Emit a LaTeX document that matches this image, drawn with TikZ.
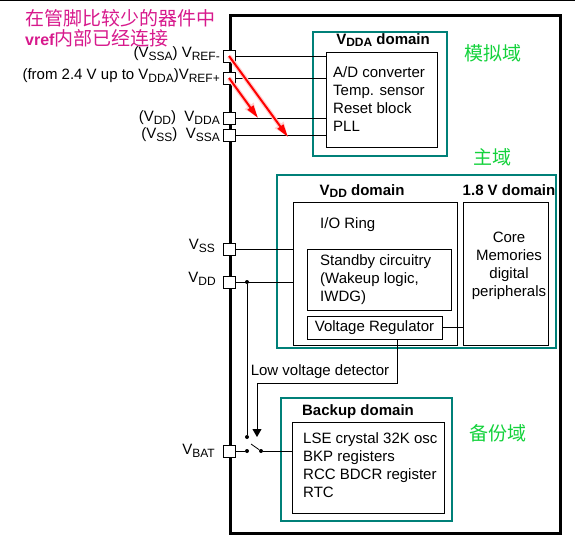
\documentclass[tikz,border=0pt]{standalone}
\usepackage{fontspec}
\setmainfont{Liberation Sans}
\newfontfamily\cjk{Noto Sans CJK SC}
\usetikzlibrary{arrows.meta}

\definecolor{domteal}{RGB}{0,128,120}
\definecolor{cngreen}{RGB}{20,210,60}
\definecolor{cnpink}{RGB}{215,25,140}

\newcommand{\lowsub}[1]{\raisebox{-0.3ex}{\fontsize{12}{12}\selectfont #1}}

\tikzset{
	pinbox/.style={draw, fill=white, line width=0.8pt, minimum size=12pt, inner sep=0pt, outer sep=0pt},
	dombox/.style={draw=domteal, line width=2pt, inner sep=0pt, outer sep=0pt, anchor=north west},
	blk/.style={draw, line width=0.8pt, inner sep=0pt, outer sep=0pt, anchor=north west},
	wire/.style={line width=0.8pt},
	jdot/.style={circle, fill, inner sep=0pt, minimum size=4pt},
	redarr/.style={draw=red, line width=2pt, -{Triangle[length=13pt,width=7pt]},
		preaction={draw=red!18, line width=4.5pt, -{Triangle[length=15pt,width=10pt]}}},
	domtitle/.style={font=\bfseries\fontsize{15}{18}\selectfont},
	cnlabel/.style={text=cngreen, font=\cjk\fontsize{19}{19}\selectfont},
}

\begin{document}
\begin{tikzpicture}[x=1pt, y=-1pt, font=\fontsize{15}{18}\selectfont]
		\useasboundingbox (0,0) rectangle (575,541);
		\draw[line width=1pt] (0,0.5) -- (575,0.5);
		
		% Chip outline
		\node[draw, line width=3pt, outer sep=0pt, anchor=north west, minimum width=330pt, minimum height=518pt] (chip) at (230,15) {};
		
		% V_DDA domain
		\node[dombox, minimum width=134pt, minimum height=124pt] (vdda) at (313,32) {};
		\node[blk, minimum width=111pt, minimum height=95pt] (adc) at (326,52) {};
		\node[domtitle] (tvdda) at (383,40) {V\lowsub{DDA} domain};
		\node[anchor=west, align=left, inner sep=0pt] (adctxt) at (333,99.5) {A/D converter\\Temp. sensor\\Reset block\\PLL};
		
		% Main domain
		\node[dombox, minimum width=279pt, minimum height=173pt] (maindom) at (277,175) {};
		\node[blk, minimum width=164pt, minimum height=143pt] (vddbox) at (293,202) {};
		\node[blk, minimum width=85pt, minimum height=143pt] (corebox) at (463,202) {};
		\node[domtitle] (tvdd) at (362,191) {V\lowsub{DD} domain};
		\node[domtitle] (tcore) at (509,190) {1.8 V domain};
		\node[anchor=west, inner sep=0pt] (iotxt) at (320,225) {I/O Ring};
		\node[blk, minimum width=144pt, minimum height=61pt] (stby) at (307,249) {};
		\node[anchor=west, align=left, inner sep=0pt] (stbytxt) at (320,279.5) {Standby circuitry\\(Wakeup logic,\\IWDG)};
		\node[draw, line width=0.8pt, inner sep=0pt, minimum width=135pt, minimum height=23pt] (vreg) at (374.5,327.5) {Voltage Regulator};
		\node[align=center, inner sep=0pt] (coretxt) at (509,265.5) {Core\\Memories\\digital\\peripherals};
		
		% Backup domain
		\node[dombox, minimum width=171pt, minimum height=123pt] (bkdom) at (281,398) {};
		\node[blk, minimum width=152pt, minimum height=91pt] (bkbox) at (292,422) {};
		\node[domtitle] (tbk) at (358,412) {Backup domain};
		\node[anchor=west, align=left, inner sep=0pt] (bktxt) at (303,465.5) {LSE crystal 32K osc\\BKP registers\\RCC BDCR register\\RTC};
		
		% Pins
		\node[pinbox] (prefm) at (229,56) {};
		\node[pinbox] (prefp) at (229,78) {};
		\node[pinbox] (pvdda) at (229,118) {};
		\node[pinbox] (pvssa) at (229,135) {};
		\node[pinbox] (pvss) at (229,249) {};
		\node[pinbox] (pvdd) at (229,282) {};
		\node[pinbox] (pvbat) at (229,451) {};
		
		% Pin labels
		\node[anchor=east, inner sep=0pt, yshift=2pt] (lrefm) at ([xshift=-3pt]prefm.west) {(V\lowsub{SSA}) V\lowsub{REF-}};
		\node[anchor=east, inner sep=0pt, yshift=2pt] (lrefp) at ([xshift=-3pt]prefp.west) {(from 2.4 V up to V\lowsub{DDA})V\lowsub{REF+}};
		\node[anchor=east, inner sep=0pt] (lvdda) at ([xshift=-3pt]pvdda.west) {(V\lowsub{DD})\ \ V\lowsub{DDA}};
		\node[anchor=east, inner sep=0pt] (lvssa) at ([xshift=-3pt]pvssa.west) {(V\lowsub{SS})\ \ V\lowsub{SSA}};
		\node[anchor=east, inner sep=0pt, yshift=3pt] (lvss) at ([xshift=-8pt]pvss.west) {V\lowsub{SS}};
		\node[anchor=east, inner sep=0pt, yshift=3pt] (lvdd) at ([xshift=-7pt]pvdd.west) {V\lowsub{DD}};
		\node[anchor=east, inner sep=0pt] (lvbat) at ([xshift=-8pt]pvbat.west) {V\lowsub{BAT}};
		
		% Wires
		\draw[wire] (prefm.east) -- (prefm.east -| adc.west);
		\draw[wire] (prefp.east) -- (prefp.east -| adc.west);
		\draw[wire] (pvdda.east) -- (pvdda.east -| adc.west);
		\draw[wire] (pvssa.east) -- (pvssa.east -| adc.west);
		\draw[wire] (pvss.east) -- (pvss.east -| vddbox.west);
		\draw[wire] (pvdd.east) -- (pvdd.east -| vddbox.west);
		\draw[wire] (vreg.east) -- (vreg.east -| corebox.west);
		
		% Switch
		\node[jdot] (jvdd) at (247,282) {};
		\node[jdot] (swtop) at (247,437) {};
		\node[jdot] (swleft) at (247,451) {};
		\node[jdot] (swright) at (261,451) {};
		\coordinate (swblade) at (251,444);
		\draw[wire] (jvdd) -- (swtop);
		\draw[wire] (pvbat.east) -- (swleft);
		\draw[wire] (swright) -- (swblade);
		\draw[wire] (swright) -- (swright -| bkbox.west);
		
		% Low voltage detector
		\coordinate (lvda) at (397,383);
		\coordinate (lvdb) at (257,383);
		\coordinate (lvdtip) at (257,437);
		\draw[wire, -{Triangle[length=8pt,width=9pt]}] (vreg.south -| lvda) -- (lvda) -- (lvdb) -- (lvdtip);
		\node (lvdtxt) at (320,372) {Low voltage detector};
		
		% Red arrows
		\coordinate (rmend) at (288,137);
		\coordinate (rpend) at (258,118);
		\draw[redarr] (prefm.center) -- (rmend);
		\draw[redarr] (prefp.center) -- (rpend);
		
		% Chinese notes
		\node[anchor=west, inner sep=0pt, text=cnpink, font=\cjk\fontsize{19}{19}\selectfont] (note1) at (25,18) {在管脚比较少的器件中};
		\node[anchor=west, inner sep=0pt, text=cnpink] (note2) at (25,38) {{\bfseries\fontsize{16}{16}\selectfont vref}{\cjk\fontsize{19}{19}\selectfont 内部已经连接}};
		\node[cnlabel] (cnana) at (493,53) {模拟域};
		\node[cnlabel] (cnmain) at (492,157) {主域};
		\node[cnlabel] (cnbk) at (498,433) {备份域};
	\end{tikzpicture}
\end{document}
